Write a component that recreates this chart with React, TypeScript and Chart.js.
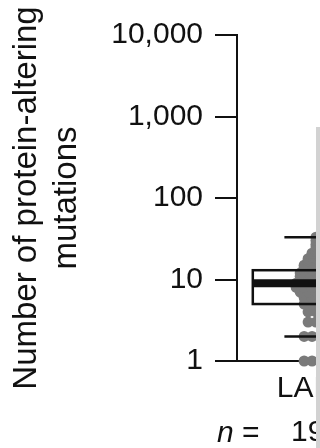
import React, { useEffect, useRef } from "react";
import { Chart, registerables } from "chart.js";

Chart.register(...registerables);

// ---- data ----
const CATEGORIES = ["LAML"];
const SAMPLE_COUNTS = [197];
const Y_TICKS = [1, 10, 100, 1000, 10000];
const Y_TICK_LABELS = ["1", "10", "100", "1,000", "10,000"];
const Y_TITLE = ["Number of protein-altering", "mutations"];
const N_LABEL_PREFIX = "n";
const N_LABEL_SUFFIX = " =";

// box-plot summary (mutations)
const BOX_Q1 = [5];
const BOX_MEDIAN = [9];
const BOX_Q3 = [13];
const WHISKER_LOW = [2];
const WHISKER_HIGH = [33];

// strip of sample dots: mutation count and number of samples in that row
const DOT_VALUES = [1, 2, 3, 4, 5, 6, 7, 8, 9, 10, 11, 12, 13, 14, 15, 16, 17, 18, 19, 20, 21, 22, 23, 25, 27, 30, 33];
const DOT_COUNTS = [4, 4, 3, 3, 4, 4, 5, 6, 6, 5, 5, 5, 4, 4, 4, 3, 3, 3, 2, 2, 2, 1, 1, 1, 1, 1, 1];

// ---- geometry of the category slot (x-scale units, category centred at 0) ----
const X_MIN = -0.5;
const X_MAX = 0.5;
const BOX_HALF = 0.4;
const CAP_HALF = 0.2;
const DOT_STEP = 0.05;

const FONT = "'Liberation Sans', Arial, Helvetica, sans-serif";
const INK = "#111111";
const DOT_COLOR = "#7a7a7a";

const boxPlugin = {
  id: "boxPlot",
  afterDatasetsDraw(chart: any) {
    const { ctx, scales } = chart;
    const xs = scales.x;
    const ys = scales.y;
    ctx.save();
    ctx.strokeStyle = INK;
    CATEGORIES.forEach((_, i) => {
      const cx = i;
      const l = xs.getPixelForValue(cx - BOX_HALF);
      const r = xs.getPixelForValue(cx + BOX_HALF);
      const yq1 = ys.getPixelForValue(BOX_Q1[i]);
      const yq3 = ys.getPixelForValue(BOX_Q3[i]);
      const ym = ys.getPixelForValue(BOX_MEDIAN[i]);
      const ylo = ys.getPixelForValue(WHISKER_LOW[i]);
      const yhi = ys.getPixelForValue(WHISKER_HIGH[i]);
      ctx.lineWidth = 2.5;
      ctx.strokeRect(l, yq3, r - l, yq1 - yq3);
      ctx.lineWidth = 8;
      ctx.beginPath();
      ctx.moveTo(l, ym);
      ctx.lineTo(r, ym);
      ctx.stroke();
      ctx.lineWidth = 2.5;
      const cl = xs.getPixelForValue(cx - CAP_HALF);
      const cr = xs.getPixelForValue(cx + CAP_HALF);
      ctx.beginPath();
      ctx.moveTo(cl, ylo);
      ctx.lineTo(cr, ylo);
      ctx.moveTo(cl, yhi);
      ctx.lineTo(cr, yhi);
      ctx.stroke();
    });
    ctx.restore();
  },
  afterDraw(chart: any) {
    const { ctx, chartArea } = chart;
    ctx.save();
    ctx.fillStyle = INK;
    ctx.textBaseline = "alphabetic";
    ctx.textAlign = "left";
    const x0 = chartArea.left - 20;
    const yb = 442;
    ctx.font = `italic 30px ${FONT}`;
    ctx.fillText(N_LABEL_PREFIX, x0, yb);
    const w = ctx.measureText(N_LABEL_PREFIX).width;
    ctx.font = `30px ${FONT}`;
    ctx.fillText(N_LABEL_SUFFIX, x0 + w, yb);
    ctx.restore();
  },
};

export default function App() {
  const ref = useRef<HTMLCanvasElement>(null);

  useEffect(() => {
    if (!ref.current) return;
    const points: { x: number; y: number }[] = [];
    DOT_VALUES.forEach((v, i) => {
      const k = DOT_COUNTS[i];
      for (let j = 0; j < k; j++) {
        points.push({ x: (j - (k - 1) / 2) * DOT_STEP, y: v });
      }
    });

    const chart = new Chart(ref.current, {
      type: "scatter",
      data: {
        datasets: [
          {
            data: points,
            pointRadius: 5.5,
            pointBackgroundColor: DOT_COLOR,
            pointBorderWidth: 0,
            borderWidth: 0,
            clip: false as any,
          },
        ],
      },
      options: {
        responsive: false,
        animation: false,
        events: [],
        layout: { autoPadding: false, padding: { top: 35, right: 5, bottom: 0, left: 0 } } as any,
        plugins: { legend: { display: false }, tooltip: { enabled: false } },
        scales: {
          x: {
            type: "linear",
            bounds: "data",
            min: X_MIN,
            max: X_MAX,
            afterBuildTicks: (s: any) => {
              s.ticks = CATEGORIES.map((_, i) => ({ value: i }));
            },
            afterFit: (s: any) => {
              s.height = 87;
            },
            ticks: {
              autoSkip: false,
              maxRotation: 0,
              minRotation: 0,
              padding: 6,
              color: INK,
              font: { family: FONT, size: 30, lineHeight: "44px" },
              callback: (_v: any, i: number) => [CATEGORIES[i], String(SAMPLE_COUNTS[i])],
            },
            grid: { display: false, drawTicks: false },
            border: { display: true, color: INK, width: 2 },
          },
          y: {
            type: "logarithmic",
            position: "left",
            min: Y_TICKS[0],
            max: Y_TICKS[Y_TICKS.length - 1],
            afterBuildTicks: (s: any) => {
              s.ticks = Y_TICKS.map((v) => ({ value: v }));
            },
            afterFit: (s: any) => {
              s.width = 237;
            },
            ticks: {
              padding: 12,
              color: INK,
              font: { family: FONT, size: 30 },
              callback: (v: any) => Y_TICK_LABELS[Y_TICKS.indexOf(Number(v))] ?? "",
            },
            grid: {
              display: true,
              drawOnChartArea: false,
              drawTicks: true,
              tickLength: 22,
              color: INK,
              lineWidth: 2,
            },
            border: { display: true, color: INK, width: 2 },
            title: {
              display: true,
              text: Y_TITLE,
              color: INK,
              font: { family: FONT, size: 33, lineHeight: "40px" },
              padding: { top: 7, bottom: 0 },
            },
          },
        },
      },
      plugins: [boxPlugin],
    });
    return () => chart.destroy();
  }, []);

  return (
    <div
      style={{
        position: "fixed",
        left: 0,
        top: 0,
        width: 320,
        height: 448,
        background: "#ffffff",
        overflow: "hidden",
      }}
    >
      <canvas ref={ref} width={400} height={448} style={{ display: "block" }} />
      <div
        style={{
          position: "absolute",
          left: 316,
          top: 127,
          width: 4,
          height: 321,
          background: "#d2d2d2",
        }}
      />
    </div>
  );
}
